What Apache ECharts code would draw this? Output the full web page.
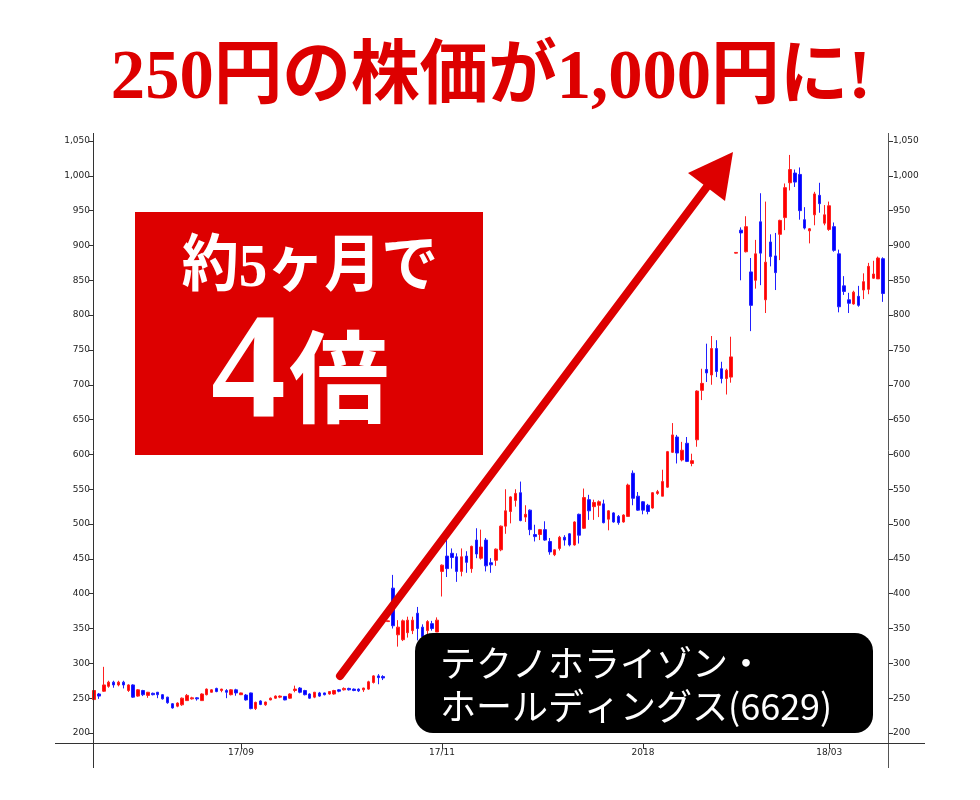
<!DOCTYPE html>
<html><head><meta charset="utf-8">
<script src="https://cdn.jsdelivr.net/npm/echarts@6/dist/echarts.min.js"></script>
<style>html,body{margin:0;padding:0;background:#fff}#c{width:980px;height:800px}</style>
</head><body><div id="c"></div>
<script>
// Trading days per month (last March entry is an empty slot at the right edge)
const tradingDays = {
  "2017-07": [20,21,24,25,26,27,28,31],
  "2017-08": [1,2,3,4,7,8,9,10,14,15,16,17,18,21,22,23,24,25,28,29,30,31],
  "2017-09": [1,4,5,6,7,8,11,12,13,14,15,19,20,21,22,25,26,27,28,29],
  "2017-10": [2,3,4,5,6,10,11,12,13,16,17,18,19,20,23,24,25,26,27,30,31],
  "2017-11": [1,2,6,7,8,9,10,13,14,15,16,17,20,21,22,24,27,28,29,30],
  "2017-12": [1,4,5,6,7,8,11,12,13,14,15,18,19,20,21,22,25,26,27,28,29],
  "2018-01": [4,5,9,10,11,12,15,16,17,18,19,22,23,24,25,26,29,30,31],
  "2018-02": [1,2,5,6,7,8,9,13,14,15,16,19,20,21,22,23,26,27,28],
  "2018-03": [1,2,5,6,7,8,9,12,13,14,15,16,19]
};
const xTickLabels = {"2017-09-01":"17/09","2017-11-01":"17/11","2018-01-04":"2018","2018-03-01":"18/03"};

const openP = [248,256,260,267,273,269,273,261,269,253,261,254,257,258.5,255,251.5,242,238.5,240.5,246.5,
249,250.5,246.5,255,258.5,264,261,261,255,262,255,254.5,257.5,235,246,240.5,247.5,250,251.5,252.5,
250,261,264.5,261,256,251.5,257.5,257.5,256,256,262,262,264,263,263,262,263,272.5,282,281,
360,408,341,334,344,347,372,352,347,357,345,432,454,458,453,432,454,436,477,451,
477,444.5,448,463,497,518,534,545,510,520,485,485,492,475,456,465,481,486,470,514,
494,535,525,527,529,507,516,511,503,511,573,540,532,527,523,544,540,553,603,625,
592,616,587,621,692,722,714,752,723,709,711,889,922,891,862,850,934,822,905,885,
916,940,990,1004,1002,937,921,944,972,932,923,927,888,842,822,816,827,836,837,853,
852,881];
const closeP = [261,253,269,273,269,273,269,269,251.5,262,255,258.5,255,255,249,243.5,236,243,250,254,
250.5,249,256,263,262,259.5,263,258.5,262,257.5,257.5,247.5,235,244,241,244.5,250,253,253,247.5,
256,263,258.5,255,250,258.5,253,255,259.5,261,260,264,262,261,260.5,264.5,273.5,282,279.5,279,
361,354,352,361,362,362,350,338,360,350,362,441,436,452,432,453,445,468,457,467,
440,441.5,464,497,519,539,544,505,514,492,482,492,477,460,463,481,477,470,503,484,
538,519,531,532,502,519,503,502,513,556,537,520,520,518,545,546.5,561,604,628,602,
606,590,591,691,702,717,752,719,709,721,740,890,918,927,814,888,889,876,884,861,
936,983,1009,991,950,925,924,974,960,944,957,893,812,834,817,833,814,848,870,859,
882,831];
const lowP = [247,249,259,265,265,267,264,259,250.5,252,253,250.5,254,250,248,242,235,237,239,246,
248,246.5,246,254,258,258.5,258.5,250,254,253.5,254.5,246.5,234,233,240,239,247,249,250,247,
249,258.5,257,254,249,250,252,254,255,255,258.5,261,261,260,259,259,262,271,270,276,
359.5,350,324,332,337,342,333,333,340,347,345,396,424,436,417,425,430,430,451,449,
432,430,440,461,486,501,525,504,503,484,475,477,476,456,454,462,469,468,469,472,
493,506,506,510,501,491,502,499,502,511,527,519,514,514,522,542,540,552,602,587,
590,589,583,611,678,704,700,711,702,686,703,888.5,850,890,777,838,843,803,870,836,
879,922,979,984,937,923,903,929,947,929,921,891,804,829,803,815,812,823,830,852,
852,819];
const highP = [262,257.5,295,275,275,275,275,270,270,263,262,259,258,259,256,252,243,244,251,256,
252,251.5,257,264,263,265,263.5,263,263,263.5,258,256,258,245,247,245,251,254,254,253,
257,268,266,262,257,259,259,258,260,262,263,265.5,265,264,264,265,275,283,284.5,283,
361.5,427,362,363,367,367,381,356,362,361,366,442,482,465,458,465,461,469,494,492,
480,451,465,498,550,540,550,561,527,521,499,493,504,480,463.5,483,484,487,504,515,
551,542,535,534,535,520,517,513,514,558,577,546,533,529,546,549,578,605,645,628,
618,625,601,692,723,759,770,764,733,723,769,890.5,926,942,882,908,975,963,916,918,
937,989,1030,1009,1012,955,925,977,990,958,963,933,894,856,832,835,842,860,875,878,
884,883];
const yMin = 200, yMax = 1050, yStep = 50;

const title = "250円の株価が1,000円に!";
const boxLine1 = "約5ヶ月で";
const boxNum = "4", boxUnit = "倍";
const nameLine1 = "テクノホライゾン・";
const nameLine2 = "ホールディングス(6629)";

const categories = [];
Object.keys(tradingDays).forEach(m => tradingDays[m].forEach(d => categories.push(m + "-" + String(d).padStart(2, "0"))));
const ohlc = openP.map((o, i) => [o, closeP[i], lowP[i], highP[i]]);
const tickIdx = [];
categories.forEach((c, i) => { if (xTickLabels[c]) tickIdx.push(i); });

const G = {left: 94, right: 92, top: 141, bottom: 67};
const W = 980, H = 800;
const axisColor = "#333";
const labelFont = {fontSize: 9, fontFamily: "DejaVu Sans", color: "#222"};
const RED = "#dd0000";

const chart = echarts.init(document.getElementById("c"), null, {renderer: "canvas"});
const yAxisCommon = {
  type: "value", min: yMin, max: yMax, interval: yStep, scale: false,
  axisLine: {show: false},
  axisTick: {show: true, length: 5, lineStyle: {color: axisColor}},
  splitLine: {show: false},
  axisLabel: Object.assign({formatter: v => v.toLocaleString("en-US")}, labelFont)
};
chart.setOption({
  animation: false,
  backgroundColor: "#fff",
  grid: {left: G.left, right: G.right, top: G.top, bottom: G.bottom, containLabel: false},
  xAxis: [{
    type: "category", data: categories, boundaryGap: false,
    axisLine: {show: false}, axisTick: {show: false}, axisLabel: {show: false}, splitLine: {show: false}
  }, {
    type: "value", min: 0, max: categories.length - 1, offset: 10, position: "bottom",
    axisLine: {show: false}, splitLine: {show: false},
    axisTick: {show: true, length: 6, customValues: tickIdx, lineStyle: {color: axisColor}},
    axisLabel: Object.assign({customValues: tickIdx, formatter: v => xTickLabels[categories[Math.round(v)]] || "", margin: 5}, labelFont)
  }],
  yAxis: [
    Object.assign({position: "left"}, yAxisCommon, {axisLabel: Object.assign({}, yAxisCommon.axisLabel, {margin: 4})}),
    Object.assign({position: "right"}, yAxisCommon, {axisLabel: Object.assign({}, yAxisCommon.axisLabel, {margin: 5})})
  ],
  series: [{
    type: "candlestick", data: ohlc, barWidth: 3, xAxisIndex: 0, yAxisIndex: 0,
    itemStyle: {color: "#ff0000", color0: "#0000ff", borderColor: "#ff2020", borderColor0: "#2020ff", borderWidth: 1}
  }],
  graphic: [
    // axis frame lines
    {type: "line", z: 50, shape: {x1: G.left - 0.5, y1: 133, x2: G.left - 0.5, y2: 768}, style: {stroke: axisColor, lineWidth: 1}},
    {type: "line", z: 50, shape: {x1: W - G.right + 0.5, y1: 133, x2: W - G.right + 0.5, y2: 768}, style: {stroke: "#555", lineWidth: 1}},
    {type: "line", z: 50, shape: {x1: 55, y1: H - G.bottom + 10.5, x2: 925, y2: H - G.bottom + 10.5}, style: {stroke: axisColor, lineWidth: 1}},
    // title
    {type: "text", z: 100, x: 491, y: 80, scaleX: 0.98,
      style: {text: title, x: 0, y: 0, align: "center", verticalAlign: "middle", fontSize: 70, fontWeight: "bold",
        fontFamily: "'Liberation Serif','Noto Sans CJK JP'", fill: RED}},
    // arrow
    {type: "line", z: 90, shape: {x1: 340, y1: 676, x2: 712, y2: 180}, style: {stroke: RED, lineWidth: 8, lineCap: "round"}},
    {type: "polygon", z: 90, shape: {points: [[733, 152], [688, 173], [725, 201]]}, style: {fill: RED}},
    // red box
    {type: "rect", z: 100, shape: {x: 135, y: 212, width: 348, height: 243}, style: {fill: RED}},
    {type: "text", z: 101, x: 310, y: 270, scaleX: 0.92,
      style: {text: boxLine1, align: "center", verticalAlign: "middle", fontSize: 62, fontWeight: "bold",
        fontFamily: "'Liberation Serif','Noto Sans CJK JP'", fill: "#fff"}},
    {type: "text", z: 101, x: 286, y: 378,
      style: {text: boxNum, align: "right", verticalAlign: "middle", fontSize: 150, fontWeight: "bold",
        fontFamily: "'Liberation Serif'", fill: "#fff"}},
    {type: "text", z: 101, x: 289, y: 377,
      style: {text: boxUnit, align: "left", verticalAlign: "middle", fontSize: 100, fontWeight: "bold",
        fontFamily: "'Noto Sans CJK JP'", fill: "#fff"}},
    // black name box
    {type: "rect", z: 100, shape: {x: 415, y: 633, width: 458, height: 100, r: 18}, style: {fill: "#000"}},
    {type: "text", z: 101, x: 440, y: 663,
      style: {text: nameLine1, align: "left", verticalAlign: "middle", fontSize: 36,
        fontFamily: "'Noto Sans CJK JP'", fill: "#fff"}},
    {type: "text", z: 101, x: 440, y: 706,
      style: {text: nameLine2, align: "left", verticalAlign: "middle", fontSize: 36,
        fontFamily: "'Noto Sans CJK JP'", fill: "#fff"}}
  ]
});
</script>
</body></html>
